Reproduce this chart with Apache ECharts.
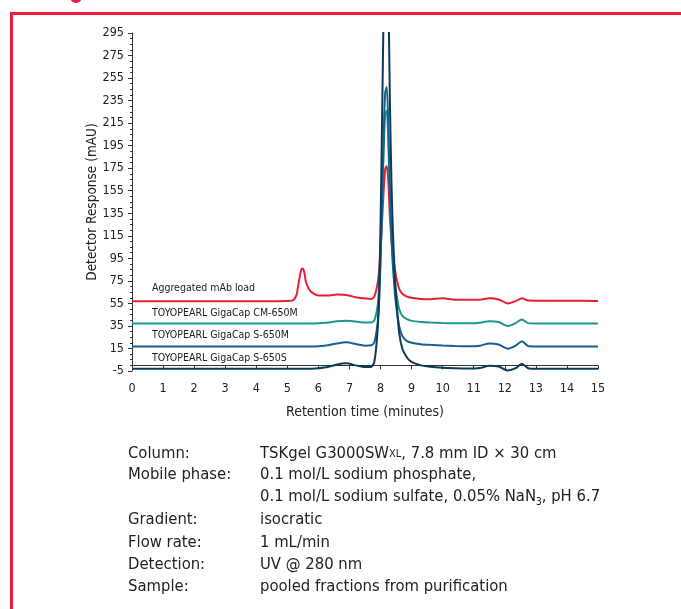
<!DOCTYPE html>
<html>
<head>
<meta charset="utf-8">
<script src="https://cdn.jsdelivr.net/npm/echarts@6/dist/echarts.min.js"></script>
<style>
  html, body { margin: 0; padding: 0; background: #fff; }
  #chart { width: 681px; height: 609px; }
</style>
</head>
<body>
<div id="chart"></div>
<script>
// retention time (min), shared by all four traces
const times = [0, 1, 2, 3, 4, 5, 5.2, 5.3, 5.35, 5.4, 5.45, 5.5, 5.55, 5.6, 5.7, 5.8,
  6.0, 6.3, 6.6, 6.9, 7.2, 7.5, 7.7,
  7.8, 7.9, 7.95, 8.0, 8.05, 8.1, 8.15, 8.2, 8.25, 8.3, 8.35, 8.4, 8.45, 8.5, 8.6, 8.7, 8.85,
  9.0, 9.3, 9.6, 10.0, 10.4, 10.8, 11.2, 11.5, 11.8, 12.1, 12.35, 12.55, 12.75, 13.0, 14.0, 15.0];

// detector response (mAU), traces are offset as in the original figure
const aggLoad = [57, 57, 57, 57, 57, 57.2, 58, 63, 71, 79, 85, 86, 82, 74, 67.5, 64.5,
  62, 62, 63, 62.5, 60.5, 59.5, 59,
  61, 72, 83, 103, 128, 155, 174, 177, 163, 133, 112, 99, 88, 79, 68, 63.5, 61,
  60, 59, 58.7, 59.5, 58.3, 58.2, 58.3, 59.5, 58.5, 55, 57, 59.5, 57.5, 57.4, 57.3, 57.2];

const cm650m = [37.2, 37.2, 37.2, 37.2, 37.2, 37.2, 37.2, 37.2, 37.2, 37.2, 37.2, 37.2, 37.2, 37.2, 37.2, 37.2,
  37.4, 38, 39.2, 39.5, 39, 38, 38,
  40, 52, 68, 98, 142, 190, 222, 226, 199, 152, 117, 94, 78, 66, 50, 44, 41,
  39.5, 38.5, 38, 37.6, 37.4, 37.3, 37.8, 39.2, 38.5, 35, 37.5, 40.8, 37.5, 37.2, 37.2, 37.2];

const s650m = [16.8, 16.8, 16.8, 16.8, 16.8, 16.8, 16.8, 16.8, 16.8, 16.8, 16.8, 16.8, 16.8, 16.8, 16.8, 16.8,
  17, 17.8, 19.5, 20.5, 19, 17.5, 17.8,
  20.5, 36, 54, 91, 145, 203, 242, 247, 214, 156, 114, 87, 68, 54, 35, 26, 21.5,
  20, 18.8, 18.2, 17.6, 17.2, 17, 17.5, 19.5, 18.5, 14.8, 17.5, 21.5, 17.2, 16.8, 16.8, 16.8];

const s650s = [-3, -3, -3, -3, -3, -3, -3, -3, -3, -3, -3, -3, -3, -3, -3, -3,
  -2.6, -1.5, 0.8, 1.8, 0, -1.5, -1.2,
  3, 29, 61, 125, 217, 317, 385, 393, 337, 237, 165, 117, 85, 61, 29, 15, 7,
  3, 0, -1.3, -2.2, -2.6, -2.8, -2.3, -0.3, -1, -4.5, -2.5, 1.4, -2.5, -3, -3, -3];

const traceNames = ['Aggregated mAb load', 'TOYOPEARL GigaCap CM-650M',
  'TOYOPEARL GigaCap S-650M', 'TOYOPEARL GigaCap S-650S'];
const traceColors = ['#e81f33', '#1f958f', '#17608c', '#0c3b58'];
const traces = [aggLoad, cm650m, s650m, s650s];

const FONT = '"Liberation Sans Narrow", "DejaVu Sans Condensed", sans-serif';

const chart = echarts.init(document.getElementById('chart'), null, { renderer: 'canvas' });

const series = traces.map((vals, i) => ({
  name: traceNames[i],
  type: 'line',
  data: times.map((t, j) => [t, vals[j]]),
  showSymbol: false,
  smooth: 0.25,
  clip: true,
  animation: false,
  lineStyle: { color: traceColors[i], width: 2 },
  z: 2 + i
}));

// info block under the chart
const infoRows = [
  ['Column:', '{m|TSKgel G3000SW}{sc|XL}{m|, 7.8 mm ID × 30 cm}'],
  ['Mobile phase:', '{m|0.1 mol/L sodium phosphate,}'],
  ['', '{m|0.1 mol/L sodium sulfate, 0.05% NaN}{sub|3}{m|, pH 6.7}'],
  ['Gradient:', '{m|isocratic}'],
  ['Flow rate:', '{m|1 mL/min}'],
  ['Detection:', '{m|UV @ 280 nm}'],
  ['Sample:', '{m|pooled fractions from purification}']
];
const infoY = [454, 475, 497, 520, 543, 565, 587];

const richStyles = {
  m: { fontSize: 16.5, fontFamily: FONT, fill: '#222', lineHeight: 20, verticalAlign: 'middle' },
  sc: { fontSize: 11, fontFamily: FONT, fill: '#222', lineHeight: 20, verticalAlign: 'middle' },
  sub: { fontSize: 10, fontFamily: FONT, fill: '#222', lineHeight: 8, verticalAlign: 'bottom' }
};

const graphics = [
  {
    type: 'rect', silent: true,
    shape: { x: 11.5, y: 13.5, width: 720, height: 650 },
    style: { fill: 'none', stroke: '#ec1c3d', lineWidth: 3 }
  },
  {
    type: 'circle', shape: { cx: 76, cy: -3, r: 6 },
    style: { fill: '#ec1c3d' }
  }
];

const plotLabels = [[traceNames[0], 288], [traceNames[1], 313], [traceNames[2], 335], [traceNames[3], 358]];
plotLabels.forEach(([txt, y]) => {
  graphics.push({
    type: 'text', x: 152, y: y,
    style: { text: txt, fontSize: 10.5, fontFamily: FONT, fill: '#222', verticalAlign: 'middle' }
  });
});

infoRows.forEach(([k, v], i) => {
  if (k) {
    graphics.push({
      type: 'text', x: 128, y: infoY[i],
      style: { text: k, fontSize: 16.5, fontFamily: FONT, fill: '#222', verticalAlign: 'middle' }
    });
  }
  graphics.push({
    type: 'text', x: 260, y: infoY[i],
    style: { text: v, fontSize: 16.5, fontFamily: FONT, fill: '#222', verticalAlign: 'middle', rich: richStyles }
  });
});

chart.setOption({
  animation: false,
  backgroundColor: '#fff',
  grid: { left: 132, right: 83, top: 33, bottom: 238 },
  xAxis: {
    type: 'value',
    min: 0, max: 15, interval: 1,
    name: 'Retention time (minutes)',
    nameLocation: 'middle',
    nameGap: 34,
    nameMoveOverlap: false,
    nameTextStyle: { fontFamily: FONT, fontSize: 14, color: '#222' },
    axisLine: { lineStyle: { color: '#333', width: 1 } },
    axisTick: { show: true, length: 4, lineStyle: { color: '#333' } },
    axisLabel: { fontFamily: FONT, fontSize: 12.5, color: '#222', margin: 11 },
    splitLine: { show: false }
  },
  yAxis: {
    type: 'value',
    min: -5, max: 295, interval: 20,
    name: 'Detector Response (mAU)',
    nameLocation: 'middle',
    nameGap: 33,
    nameMoveOverlap: false,
    nameTextStyle: { fontFamily: FONT, fontSize: 13.5, color: '#222' },
    axisLine: { show: true, lineStyle: { color: '#333', width: 1 } },
    axisTick: { show: true, length: 4, lineStyle: { color: '#333' } },
    minorTick: { show: true, splitNumber: 4, length: 2, lineStyle: { color: '#333' } },
    axisLabel: { fontFamily: FONT, fontSize: 12.5, color: '#222', margin: 8 },
    splitLine: { show: false }
  },
  series: series,
  graphic: graphics
});
</script>
</body>
</html>
